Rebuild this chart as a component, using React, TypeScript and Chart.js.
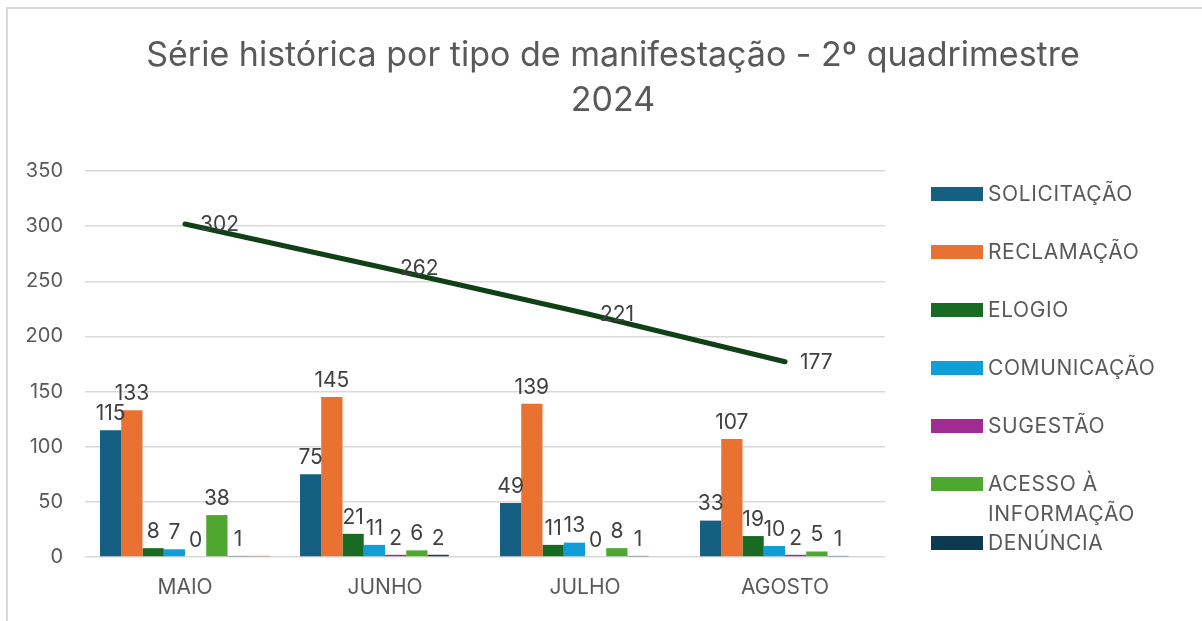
import React, { useEffect, useRef } from "react";
import { Chart, registerables } from "chart.js";

Chart.register(...registerables);

const titleLines = ["Série histórica por tipo de manifestação - 2º quadrimestre", "2024"];
const categories = ["MAIO", "JUNHO", "JULHO", "AGOSTO"];
const seriesNames = ["SOLICITAÇÃO", "RECLAMAÇÃO", "ELOGIO", "COMUNICAÇÃO", "SUGESTÃO", "ACESSO À INFORMAÇÃO", "DENÚNCIA"];
const solicitacao = [115, 75, 49, 33];
const reclamacao = [133, 145, 139, 107];
const elogio = [8, 21, 11, 19];
const comunicacao = [7, 11, 13, 10];
const sugestao = [0, 2, 0, 2];
const acesso = [38, 6, 8, 5];
const denuncia = [1, 2, 1, 1];
const semNome = [1, 0, 0, 0];
const total = [302, 262, 221, 177];
const seriesColors = ["#156082", "#E97132", "#196B24", "#0F9ED5", "#A02B93", "#4EA72E", "#0D3A4E"];
const extraColor = "#8C441E";
const lineColor = "#0F4016";
const yTicks = [0, 50, 100, 150, 200, 250, 300, 350];

const FONT = "Inter, 'Liberation Sans', sans-serif";
const GRAY = "#595959";

const overlayPlugin = {
  id: "overlay",
  afterDatasetsDraw(chart: any) {
    const ctx = chart.ctx;
    ctx.save();
    // data labels
    ctx.fillStyle = "#404040";
    ctx.font = `21px ${FONT}`;
    chart.data.datasets.forEach((ds: any, di: number) => {
      if (ds.noLabel) return;
      const meta = chart.getDatasetMeta(di);
      meta.data.forEach((el: any, i: number) => {
        const v = ds.data[i];
        if (v === null || v === undefined) return;
        if (ds.type === "line") {
          ctx.textAlign = "left";
          ctx.textBaseline = "middle";
          ctx.fillText(String(v), el.x + 15, el.y + 1);
        } else {
          ctx.textAlign = "center";
          ctx.textBaseline = "bottom";
          ctx.fillText(String(v), el.x, el.y - 6);
        }
      });
    });
    // title
    ctx.fillStyle = GRAY;
    ctx.font = `34px ${FONT}`;
    ctx.textAlign = "center";
    ctx.textBaseline = "middle";
    titleLines.forEach((t, i) => ctx.fillText(t, 613, 56 + i * 45));
    // legend
    ctx.font = `21px ${FONT}`;
    (ctx as any).letterSpacing = "0.6px";
    ctx.textAlign = "left";
    ctx.textBaseline = "middle";
    let y = 194;
    seriesNames.forEach((name, i) => {
      const words = name.split(" ");
      const lines: string[] = [];
      let cur = "";
      words.forEach((w) => {
        const test = cur ? cur + " " + w : w;
        if (ctx.measureText(test).width > 205 && cur) {
          lines.push(cur);
          cur = w;
        } else cur = test;
      });
      if (cur) lines.push(cur);
      ctx.fillStyle = seriesColors[i];
      ctx.fillRect(931, y - 7, 52, 14);
      ctx.fillStyle = GRAY;
      lines.forEach((l, li) => ctx.fillText(l, 988, y + 1 + li * 30));
      y += lines.length === 1 ? 58 : lines.length * 29.5;
    });
    ctx.restore();
  },
};

export default function App() {
  const ref = useRef<HTMLCanvasElement>(null);
  useEffect(() => {
    if (!ref.current) return;
    const barValues = [solicitacao, reclamacao, elogio, comunicacao, sugestao, acesso, denuncia];
    const datasets: any[] = [
      {
        type: "line",
        label: "TOTAL",
        data: total,
        borderColor: lineColor,
        backgroundColor: lineColor,
        borderWidth: 5,
        borderCapStyle: "round",
        pointRadius: 0,
        order: 0,
      },
      ...barValues.map((vals, i) => ({
        type: "bar",
        label: seriesNames[i],
        data: vals,
        backgroundColor: seriesColors[i],
        borderWidth: 0,
        order: 1,
      })),
      {
        type: "bar",
        label: "",
        data: semNome,
        backgroundColor: extraColor,
        borderWidth: 0,
        order: 1,
        noLabel: true,
      },
    ];
    const chart = new Chart(ref.current, {
      type: "bar",
      data: { labels: categories, datasets },
      options: {
        responsive: false,
        animation: false,
        layout: { padding: { top: 171, right: 317, bottom: 0, left: 0 } },
        datasets: { bar: { categoryPercentage: 0.85, barPercentage: 1 } },
        plugins: { legend: { display: false }, title: { display: false }, tooltip: { enabled: false } },
        scales: {
          x: {
            grid: { display: false, drawTicks: false },
            border: { display: false },
            ticks: { color: GRAY, font: { size: 21, family: FONT }, padding: 18 },
            afterFit: (s: any) => {
              s.height = 64;
            },
          },
          y: {
            min: 0,
            max: 350,
            afterBuildTicks: (s: any) => {
              s.ticks = yTicks.map((v) => ({ value: v }));
            },
            grid: { color: "#d9d9d9", lineWidth: 1.5, drawTicks: false },
            border: { display: false },
            ticks: { color: GRAY, font: { size: 20, family: FONT }, padding: 22 },
            afterFit: (s: any) => {
              s.width = 85;
            },
          },
        },
      },
      plugins: [overlayPlugin],
    } as any);
    return () => chart.destroy();
  }, []);
  return (
    <div style={{ position: "fixed", left: 0, top: 0, width: 1202, height: 621, background: "#fff" }}>
      <canvas ref={ref} width={1202} height={621} style={{ position: "absolute", left: 0, top: 0 }} />
      <div
        style={{
          position: "absolute",
          left: 6,
          top: 7,
          right: 0,
          bottom: 0,
          borderTop: "2px solid #d9d9d9",
          borderLeft: "2px solid #d9d9d9",
          pointerEvents: "none",
        }}
      />
    </div>
  );
}
